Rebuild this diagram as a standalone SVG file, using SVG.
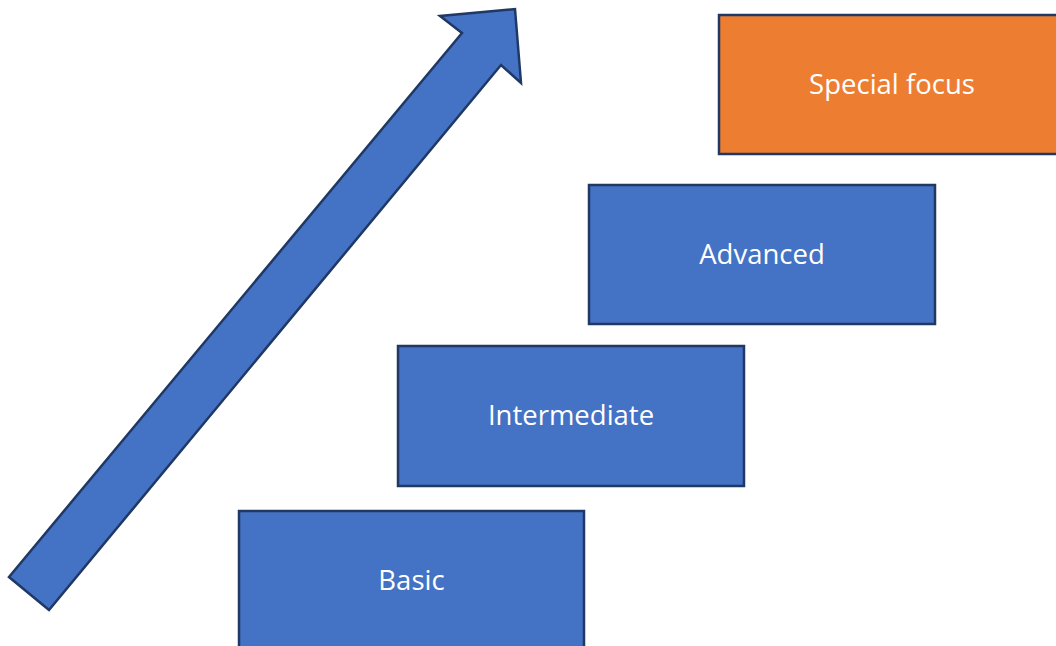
<svg xmlns="http://www.w3.org/2000/svg" width="1056" height="646" viewBox="0 0 1056 646">
<style>
.box{fill:#4472C4;stroke:#1F3864;stroke-width:2.5}
.orange{fill:#ED7D31}
.lbl{font-family:"Open Sans","Liberation Sans",sans-serif;font-size:27.5px;fill:#FFFFFF;text-anchor:middle;dominant-baseline:central}
</style>
<rect width="1056" height="646" fill="#FFFFFF"/>
<g id="connectors">
<path class="box" d="M9,577 L462,33 L440,16 L515,9 L521,83 L501,65 L49,610 Z" stroke-linejoin="miter"/>
</g>
<g id="basic">
<rect class="box" x="239" y="511" width="345" height="140"/>
<text class="lbl" x="411.5" y="579">Basic</text>
</g>
<g id="intermediate">
<rect class="box" x="398" y="346" width="346" height="140"/>
<text class="lbl" x="571" y="414">Intermediate</text>
</g>
<g id="advanced">
<rect class="box" x="589" y="185" width="346" height="139"/>
<text class="lbl" x="762" y="253">Advanced</text>
</g>
<g id="special-focus">
<rect class="box orange" x="719" y="15" width="346" height="139"/>
<text class="lbl" x="892" y="83">Special focus</text>
</g>
</svg>
